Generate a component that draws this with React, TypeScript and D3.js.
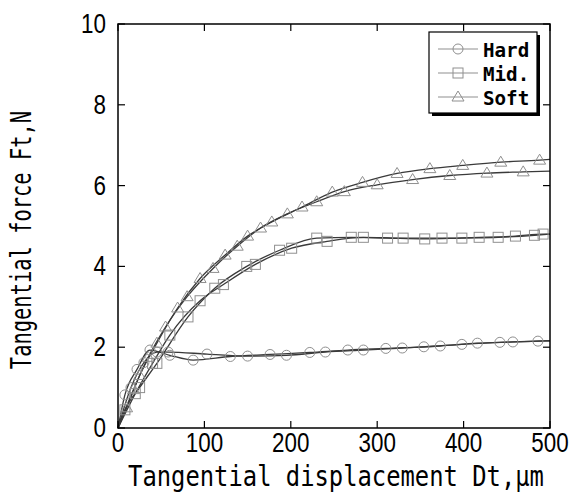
import React from "react";
import * as d3 from "d3";

const xTicks = [0, 100, 200, 300, 400, 500];
const yTicks = [0, 2, 4, 6, 8, 10];

const hardA: [number, number][] = [[0,0],[8,0.82],[22,1.45],[37,1.93],[60,1.8],[87,1.68],[130,1.77],[176,1.82],[222,1.87],[266,1.93],[310,1.97],[354,2.01],[398,2.07],[442,2.12],[486,2.15],[500,2.16]];
const hardB: [number, number][] = [[0,0],[15,1.0],[30,1.62],[45,1.88],[58,1.88],[103,1.83],[150,1.78],[195,1.8],[240,1.88],[284,1.93],[329,1.98],[373,2.03],[416,2.1],[457,2.13],[500,2.16]];
const midA: [number, number][] = [[0,0],[8,0.45],[25,1.0],[45,1.6],[81,2.75],[112,3.46],[149,4.0],[187,4.4],[230,4.7],[270,4.72],[312,4.7],[355,4.68],[398,4.7],[440,4.72],[482,4.77],[500,4.8]];
const midB: [number, number][] = [[0,0],[20,0.85],[40,1.6],[60,2.3],[95,3.15],[122,3.55],[159,4.05],[201,4.45],[242,4.62],[284,4.72],[330,4.7],[375,4.7],[418,4.72],[460,4.75],[492,4.8],[500,4.8]];
const softA: [number, number][] = [[0,0],[10,0.5],[25,1.3],[45,2.1],[69,2.97],[95,3.7],[124,4.28],[150,4.75],[178,5.1],[213,5.47],[248,5.84],[283,6.08],[323,6.3],[361,6.42],[399,6.5],[443,6.58],[488,6.63],[500,6.65]];
const softB: [number, number][] = [[0,0],[18,0.95],[35,1.75],[55,2.5],[80,3.25],[110,3.95],[138,4.5],[165,4.95],[196,5.3],[230,5.6],[262,5.85],[300,6.02],[341,6.15],[384,6.25],[427,6.31],[469,6.34],[500,6.36]];

const legendLabels = ["Hard", "Mid.", "Soft"];
const markerTypes = ["circle", "square", "triangle"];

const series = [
  { data: hardA, marker: "circle" },
  { data: hardB, marker: "circle" },
  { data: midA, marker: "square" },
  { data: midB, marker: "square" },
  { data: softA, marker: "triangle" },
  { data: softB, marker: "triangle" },
];

const L = 118, R = 550, T = 24, B = 428;

function Marker({ type, x, y }: { type: string; x: number; y: number }) {
  const st = { fill: "none", stroke: "#8f8f8f", strokeWidth: 1 };
  if (type === "circle") return <circle cx={x} cy={y} r={5} {...st} />;
  if (type === "square") return <rect x={x - 5} y={y - 5} width={10} height={10} {...st} />;
  return <path d={`M${x},${y - 6}L${x + 6},${y + 4}L${x - 6},${y + 4}Z`} {...st} />;
}

export default function App() {
  const x = d3.scaleLinear().domain([0, 500]).range([L, R]);
  const y = d3.scaleLinear().domain([0, 10]).range([B, T]);
  const line = d3
    .line<[number, number]>()
    .x((d) => x(d[0]))
    .y((d) => y(d[1]))
    .curve(d3.curveMonotoneX);
  const numFont = "'Liberation Sans', Arial, sans-serif";
  const monoFont = "'DejaVu Sans Mono', 'Liberation Mono', monospace";
  const numScale = 0.83;
  return (
    <svg width={573} height={499} style={{ position: "absolute", left: 0, top: 0 }}>
      <rect x={0} y={0} width={573} height={499} fill="#fff" />
      {series.map((s, i) => (
        <path key={"l" + i} d={line(s.data) || ""} fill="none" stroke="#3a3a3a" strokeWidth={1.3} />
      ))}
      {series.map((s, i) =>
        s.data
          .filter((d, j) => j > 0 && d[0] < 500)
          .map((d, j) => <Marker key={"m" + i + "_" + j} type={s.marker} x={x(d[0])} y={y(d[1])} />)
      )}
      <rect x={L} y={T} width={R - L} height={B - T} fill="none" stroke="#000" strokeWidth={1.5} />
      {xTicks.map((t) => (
        <g key={"xt" + t}>
          <line x1={x(t)} x2={x(t)} y1={B} y2={B - 7} stroke="#000" strokeWidth={1.2} />
          <line x1={x(t)} x2={x(t)} y1={T} y2={T + 7} stroke="#000" strokeWidth={1.2} />
          <text
            transform={`translate(${x(t)},452) scale(${numScale},1)`}
            textAnchor="middle"
            fontFamily={numFont}
            fontSize={27}
          >
            {t}
          </text>
        </g>
      ))}
      {yTicks.map((t) => (
        <g key={"yt" + t}>
          <line x1={L} x2={L + 7} y1={y(t)} y2={y(t)} stroke="#000" strokeWidth={1.2} />
          <line x1={R} x2={R - 7} y1={y(t)} y2={y(t)} stroke="#000" strokeWidth={1.2} />
          <text
            transform={`translate(106,${y(t) + 9}) scale(${numScale},1)`}
            textAnchor="end"
            fontFamily={numFont}
            fontSize={27}
          >
            {t}
          </text>
        </g>
      ))}
      <text
        transform="translate(336,486) scale(0.851,1)"
        textAnchor="middle"
        fontFamily={monoFont}
        fontSize={28}
      >
        Tangential displacement Dt,μm
      </text>
      <text
        transform="translate(31,240) rotate(-90) scale(0.73,1)"
        textAnchor="middle"
        fontFamily={monoFont}
        fontSize={28}
      >
        Tangential force Ft,N
      </text>
      <g>
        <rect x={432} y={35} width={108} height={81} fill="#000" />
        <rect x={429} y={32} width={108} height={81} fill="#fff" stroke="#000" strokeWidth={1.2} />
        {legendLabels.map((lab, i) => {
          const cy = 49 + i * 24;
          return (
            <g key={"lg" + i}>
              <line x1={438} x2={478} y1={cy} y2={cy} stroke="#8f8f8f" strokeWidth={1} />
              <Marker type={markerTypes[i]} x={458} y={cy} />
              <text
                transform={`translate(483,${cy + 8}) scale(0.96,1)`}
                fontFamily={monoFont}
                fontWeight="bold"
                fontSize={20}
              >
                {lab}
              </text>
            </g>
          );
        })}
      </g>
    </svg>
  );
}
